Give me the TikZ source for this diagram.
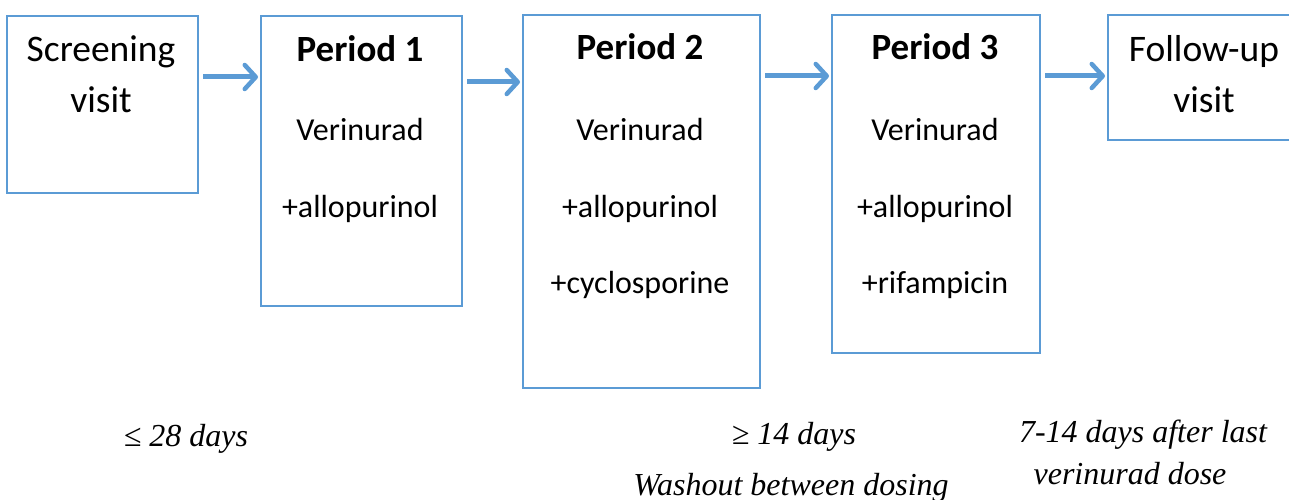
\documentclass[tikz,border=0pt]{standalone}
\usepackage{fontspec}
\setmainfont{Carlito}
\newfontfamily\notefont{Liberation Serif}
\usetikzlibrary{arrows.meta, positioning}
\definecolor{BoxBlue}{RGB}{91,155,213}
\tikzset{
  % riquadri delle fasi
  box/.style={draw=BoxBlue, line width=2pt, rectangle, inner sep=0pt, anchor=north west},
  head/.style={anchor=base, font=\fontsize{37.5}{42}\selectfont},
  title/.style={anchor=base, font=\fontsize{37}{42}\selectfont\bfseries},
  drug/.style={anchor=base, font=\fontsize{32}{38}\selectfont},
  note/.style={anchor=base, font=\fontsize{32}{38}\selectfont\notefont\itshape},
  % frecce
  flow/.style={-{Straight Barb[length=11pt,width=24pt,line width=4.5pt,round]}, line width=5pt, BoxBlue, shorten <=4pt, shorten >=2pt}
}
\begin{document}
\begin{tikzpicture}[x=1pt,y=-1pt]
    \useasboundingbox (0,0) rectangle (1289,500);
    % riquadri
    \node[box, minimum width=191pt, minimum height=177pt] (screen) at (6,15) {};
    \node[box, minimum width=201pt, minimum height=290pt] (p1) at (260,15) {};
    \node[box, minimum width=237pt, minimum height=373pt] (p2) at (522,14) {};
    \node[box, minimum width=208pt, minimum height=338pt] (p3) at (831,14) {};
    \node[box, minimum width=220pt, minimum height=125pt] (follow) at (1107,14) {};
    % testi nei riquadri
    \node[head] (screenA) at (101,62) {Screening};
    \node[head] (screenB) at (101,113) {visit};
    \node[title] (p1A) at (360,62) {Period 1};
    \node[drug] (p1B) at (360,140) {Verinurad};
    \node[drug] (p1C) at (360,217) {+allopurinol};
    \node[title] (p2A) at (640,60) {Period 2};
    \node[drug] (p2B) at (640,140) {Verinurad};
    \node[drug] (p2C) at (640,217) {+allopurinol};
    \node[drug] (p2D) at (640,293) {+cyclosporine};
    \node[title] (p3A) at (935,60) {Period 3};
    \node[drug] (p3B) at (935,140) {Verinurad};
    \node[drug] (p3C) at (935,217) {+allopurinol};
    \node[drug] (p3D) at (935,293) {+rifampicin};
    \node[head] (followA) at (1204,62) {Follow-up};
    \node[head] (followB) at (1204,113) {visit};
    % frecce
    \draw[flow] (screen.east |- 0,77) -- (p1.west |- 0,77);
    \draw[flow] (p1.east |- 0,82) -- (p2.west |- 0,82);
    \draw[flow] (p2.east |- 0,76) -- (p3.west |- 0,76);
    \draw[flow] (p3.east |- 0,76) -- (follow.west |- 0,76);
    % note sotto
    \node[note] (n1) at (186,446) {≤ 28 days};
    \node[note] (n2) at (794,444) {≥ 14 days};
    \node[note] (n3) at (791,495) {Washout between dosing};
    \node[note] (n4) at (1143,442) {7-14 days after last};
    \node[note] (n5) at (1130,484) {verinurad dose};
\end{tikzpicture}
\end{document}
